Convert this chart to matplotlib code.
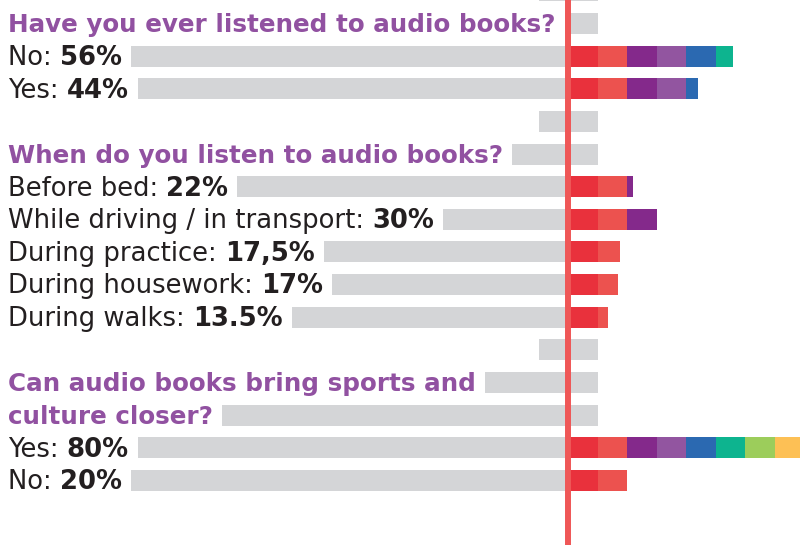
import matplotlib.pyplot as plt

# data
q1_title = "Have you ever listened to audio books?"
q1_labels = ["No:", "Yes:"]
q1_texts = ["56%", "44%"]
q1_values = [56, 44]

q2_title = "When do you listen to audio books?"
q2_labels = ["Before bed:", "While driving / in transport:", "During practice:",
             "During housework:", "During walks:"]
q2_texts = ["22%", "30%", "17,5%", "17%", "13.5%"]
q2_values = [22, 30, 17.5, 17, 13.5]

q3_title = ["Can audio books bring sports and", "culture closer?"]
q3_labels = ["Yes:", "No:"]
q3_texts = ["80%", "20%"]
q3_values = [80, 20]

seg_colors = ["#e9313c", "#ec524f", "#84298b", "#9255a0",
              "#2b69b1", "#0db48f", "#9ccd5b", "#fdc055"]
gray = "#d4d5d7"
purple = "#9151a1"
dark = "#231f20"
font = "DejaVu Sans"
fs_title = 17.7
fs_item = 18.6

W, H = 800, 545
fig = plt.figure(figsize=(W / 100, H / 100), dpi=100)
ax = fig.add_axes([0, 0, 1, 1])
ax.axis("off")
px0, step = 568, 2.95      # pixel of the 0 line, pixels per percent
row0, pitch = 23.5, 32.64  # pixel of first row centre, row pitch
ax.set_xlim(-px0 / step, (W - px0) / step)
ax.set_ylim((H - row0) / pitch, -row0 / pitch)

# build the rows
rows = [("spacer", None, None, None)]
rows.append(("title", q1_title, None, None))
for l, t, v in zip(q1_labels, q1_texts, q1_values):
    rows.append(("item", l, t, v))
rows.append(("spacer", None, None, None))
rows.append(("title", q2_title, None, None))
for l, t, v in zip(q2_labels, q2_texts, q2_values):
    rows.append(("item", l, t, v))
rows.append(("spacer", None, None, None))
for line in q3_title:
    rows.append(("title", line, None, None))
for l, t, v in zip(q3_labels, q3_texts, q3_values):
    rows.append(("item", l, t, v))

bh = 21 / pitch
x_text = (8 - px0) / step
gap = 9 / step
fig.canvas.draw()
r = fig.canvas.get_renderer()
inv = ax.transData.inverted()

def text_end(t):
    bb = t.get_window_extent(renderer=r)
    return inv.transform((bb.x1, 0))[0]

for i, (kind, label, vtext, val) in enumerate(rows):
    y = i - 1
    base = y + 0.27
    if kind == "spacer":
        left = -10
    elif kind == "title":
        t = ax.text(x_text, base, label, fontsize=fs_title, fontweight="bold",
                    color=purple, family=font, va="baseline")
        left = text_end(t) + gap
    else:
        t1 = ax.text(x_text, base, label + " ", fontsize=fs_item, color=dark,
                     family=font, va="baseline")
        t2 = ax.text(text_end(t1), base, vtext, fontsize=fs_item, fontweight="bold",
                     color=dark, family=font, va="baseline")
        left = text_end(t2) + gap
    ax.barh(y, 10 - left, left=left, height=bh, color=gray, zorder=1)
    if kind == "item":
        k = 0
        rest = val
        while rest > 0:
            w = min(10, rest)
            ax.barh(y, w, left=k * 10, height=bh, color=seg_colors[k], zorder=2)
            rest -= w
            k += 1

ax.axvline(0, color="#ef5757", lw=4.3, zorder=5)
fig.savefig("out.png", dpi=100)
